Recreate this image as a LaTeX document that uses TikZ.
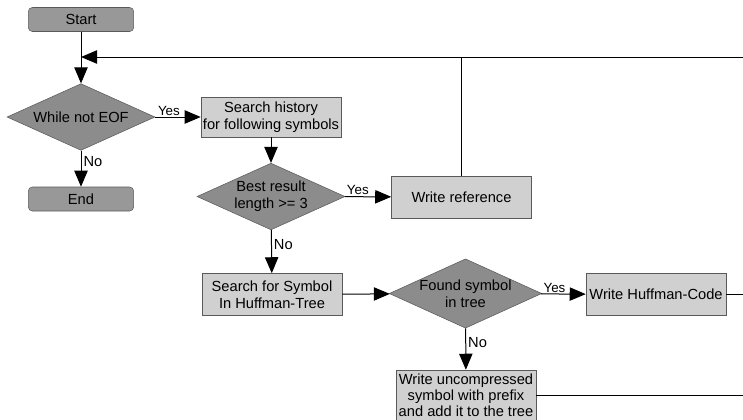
\documentclass[tikz,border=0pt]{standalone}
\usepackage{fontspec}
\setmainfont{Liberation Sans}
\definecolor{termgray}{RGB}{152, 152, 152}
\definecolor{decgray}{RGB}{140, 140, 140}
\definecolor{stepgray}{RGB}{208, 208, 208}
\definecolor{edgegray}{RGB}{90, 90, 90}
\usetikzlibrary{shapes.geometric, arrows.meta, positioning}

\tikzset{
  term/.style={draw=edgegray, fill=termgray, rounded corners=3pt, minimum width=79pt, minimum height=18pt, inner sep=0pt},
  decision/.style={diamond, draw=edgegray, fill=decgray, aspect=2.2, minimum width=111pt, minimum height=50pt, inner sep=0pt, align=center},
  stepbox/.style={draw=edgegray, fill=stepgray, minimum width=105pt, minimum height=31.5pt, inner sep=1pt, align=center},
  flow/.style={-{Triangle[length=12pt, width=10pt]}, line width=0.75pt},
  plain/.style={line width=0.75pt},
  tag/.style={font=\fontsize{10}{11}\selectfont, inner sep=1pt}
}

\begin{document}
\begin{tikzpicture}[x=0.75pt, y=-0.75pt, font=\fontsize{11}{12.5}\selectfont]
  \useasboundingbox (0, 0) rectangle (743, 419);

  % Right edge and loop line
  \coordinate (edge) at (743, 0);
  \coordinate (loop) at (81, 57);

  % Left column
  \node[term] (start) at (81, 19.5) {Start};
  \node[decision] (eof) at (81, 117) {While not EOF};
  \node[term] (end) at (81, 199) {End};

  % Middle column
  \node[stepbox, minimum height=30pt] (history) at (271, 117) {Search history\\for following symbols};
  \node[decision] (best) at (271, 196.5) {Best result\\length >= 3};
  \node[stepbox] (lookup) at (272, 294.5) {Search for Symbol\\In Huffman-Tree};

  % Right part
  \node[stepbox] (reference) at (461.5, 197) {Write reference};
  \node[decision] (found) at (465.5, 293.5) {Found symbol\\in tree};
  \node[stepbox] (huffcode) at (656, 294.5) {Write Huffman-Code};
  \node[stepbox, minimum height=37.5pt, inner sep=0pt, font=\fontsize{11}{12}\selectfont] (literal) at (466, 395) {Write uncompressed\\symbol with prefix\\and add it to the tree};

  % Connectors
  \draw[flow] (start) -- (eof);
  \draw[flow] (loop -| edge) -- (loop);
  \draw[plain] (reference.north) -- (reference.north |- loop);
  \draw[flow] (eof) -- node[tag, above, pos=0.3] {Yes} (history);
  \draw[flow] (eof) -- node[anchor=west, pos=0.3, inner sep=1.5pt] {No} (end);
  \draw[flow] (history) -- (best);
  \draw[flow] (best) -- node[tag, above, pos=0.28] {Yes} (reference);
  \draw[flow] (best) -- node[anchor=west, pos=0.33, inner sep=1.5pt] {No} (lookup);
  \draw[flow] (lookup) -- (found);
  \draw[flow] (found) -- node[tag, above, pos=0.3] {Yes} (huffcode);
  \draw[flow] (found) -- node[anchor=west, pos=0.34, inner sep=1.5pt] {No} (literal);
  \draw[plain] (huffcode.east) -- (huffcode.east -| edge);
  \draw[plain] (literal.east) -- (literal.east -| edge);
\end{tikzpicture}
\end{document}
